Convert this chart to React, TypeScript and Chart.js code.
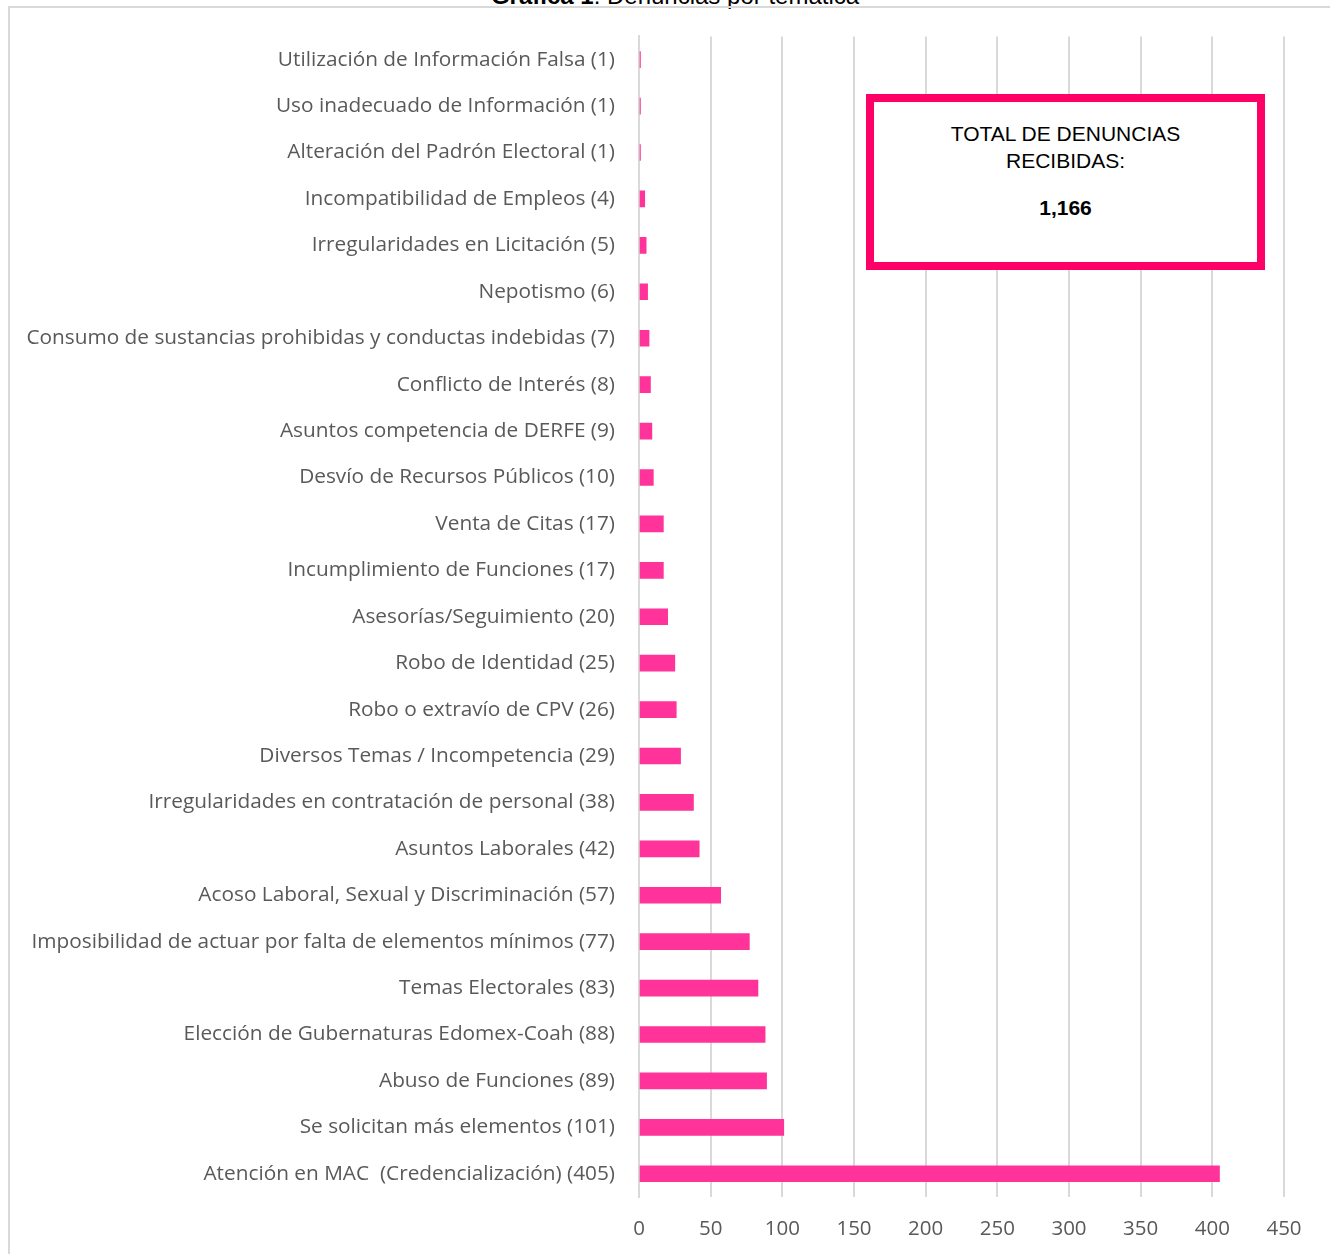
import React, { useEffect, useRef } from "react";
import { Chart, registerables } from "chart.js";

Chart.register(...registerables);

const topicNames: string[] = [
  "Utilización de Información Falsa",
  "Uso inadecuado de Información",
  "Alteración del Padrón Electoral",
  "Incompatibilidad de Empleos",
  "Irregularidades en Licitación",
  "Nepotismo",
  "Consumo de sustancias prohibidas y conductas indebidas",
  "Conflicto de Interés",
  "Asuntos competencia de DERFE",
  "Desvío de Recursos Públicos",
  "Venta de Citas",
  "Incumplimiento de Funciones",
  "Asesorías/Seguimiento",
  "Robo de Identidad",
  "Robo o extravío de CPV",
  "Diversos Temas / Incompetencia",
  "Irregularidades en contratación de personal",
  "Asuntos Laborales",
  "Acoso Laboral, Sexual y Discriminación",
  "Imposibilidad de actuar por falta de elementos mínimos",
  "Temas Electorales",
  "Elección de Gubernaturas Edomex-Coah",
  "Abuso de Funciones",
  "Se solicitan más elementos",
  "Atención en MAC  (Credencialización)",
];

const complaintCounts: number[] = [
  1, 1, 1, 4, 5, 6, 7, 8, 9, 10, 17, 17, 20, 25, 26, 29, 38, 42, 57, 77, 83, 88, 89, 101, 405,
];

const xTickMax = 450;
const xTickStep = 50;

const titleBold = "Gráfica 1";
const titleRest = ": Denuncias por temática";
const boxLines: string[] = ["TOTAL DE DENUNCIAS", "RECIBIDAS:"];
const boxTotal = "1,166";

export default function App() {
  const canvasRef = useRef<HTMLCanvasElement | null>(null);

  useEffect(() => {
    if (!canvasRef.current) return;
    const labels = topicNames.map((n, i) => `${n} (${complaintCounts[i]})`);
    const chart = new Chart(canvasRef.current, {
      type: "bar",
      data: {
        labels,
        datasets: [
          {
            data: complaintCounts,
            backgroundColor: "#FF3399",
            borderWidth: 0,
            barThickness: 16,
          },
        ],
      },
      options: {
        indexAxis: "y",
        animation: false,
        responsive: false,
        maintainAspectRatio: false,
        layout: { padding: { top: 35, right: 46, left: 0, bottom: 0 } },
        plugins: {
          legend: { display: false },
          tooltip: { enabled: false },
          title: { display: false },
        },
        scales: {
          x: {
            min: 0,
            max: xTickMax,
            ticks: {
              stepSize: xTickStep,
              color: "#595959",
              padding: 20,
              font: { family: "'Open Sans'", size: 20.5 },
              maxRotation: 0,
            },
            grid: {
              color: "#d9d9d9",
              lineWidth: 2,
              drawTicks: false,
            },
            border: { display: false },
            afterFit: (scale: any) => {
              scale.height = 57;
            },
          },
          y: {
            ticks: {
              color: "#595959",
              padding: 24,
              font: { family: "'Open Sans'", size: 20.8 },
              autoSkip: false,
            },
            grid: { display: false, drawTicks: false },
            border: { display: true, color: "#d9d9d9", width: 2 },
            afterFit: (scale: any) => {
              scale.width = 639;
            },
          },
        },
      },
    });
    return () => chart.destroy();
  }, []);

  return (
    <div
      style={{
        position: "absolute",
        left: 0,
        top: 0,
        width: 1330,
        height: 1254,
        overflow: "hidden",
        background: "#fff",
      }}
    >
      <div
        style={{
          position: "absolute",
          left: 0,
          width: 1330,
          top: -16,
          textAlign: "center",
          fontFamily: "'Liberation Sans', Arial, sans-serif",
          fontSize: 24,
          lineHeight: "24px",
          color: "#000",
          paddingLeft: 20,
          boxSizing: "border-box",
          whiteSpace: "nowrap",
        }}
      >
        <b>{titleBold}</b>
        {titleRest}
      </div>
      <div
        style={{
          position: "absolute",
          left: 8,
          top: 6,
          width: 1400,
          height: 1400,
          borderLeft: "2px solid #d9d9d9",
          borderTop: "2px solid #d9d9d9",
        }}
      />
      <canvas
        ref={canvasRef}
        width={1330}
        height={1254}
        style={{ position: "absolute", left: 0, top: 0, width: 1330, height: 1254 }}
      />
      <div
        style={{
          position: "absolute",
          left: 866,
          top: 94,
          width: 399,
          height: 176,
          boxSizing: "border-box",
          border: "8px solid #FF0066",
          background: "#fff",
          fontFamily: "'Liberation Sans', Arial, sans-serif",
          fontSize: 21,
          color: "#000",
          textAlign: "center",
        }}
      >
        <div style={{ position: "absolute", left: 0, right: 0, top: 18, lineHeight: "27px" }}>
          {boxLines.map((l, i) => (
            <div key={i}>{l}</div>
          ))}
        </div>
        <div
          style={{
            position: "absolute",
            left: 0,
            right: 0,
            top: 92,
            lineHeight: "27px",
            fontWeight: "bold",
          }}
        >
          {boxTotal}
        </div>
      </div>
    </div>
  );
}
